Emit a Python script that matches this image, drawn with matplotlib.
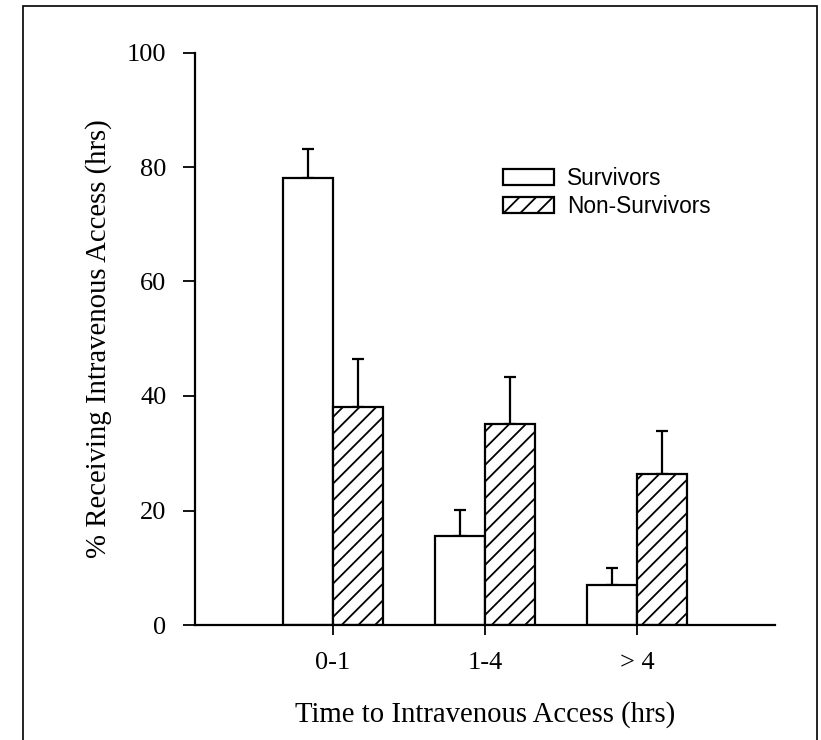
import numpy as np
from matplotlib import pyplot as plt
from matplotlib.patches import Rectangle

# data
groups = ["0-1", "1-4", "> 4"]
survivors = [78.0, 15.5, 6.9]
survivors_err = [5.2, 4.6, 3.0]
non_survivors = [38.1, 35.1, 26.4]
non_survivors_err = [8.3, 8.3, 7.5]

serif = "Liberation Serif"
sans = "Liberation Sans"
plt.rcParams["hatch.linewidth"] = 1.3

fig = plt.figure(figsize=(8.21, 7.4), dpi=100)
ax = fig.add_axes([195 / 821, 1 - 625 / 740, 580 / 821, 572.5 / 740])

x = np.arange(len(groups))
w = 0.329

ax.bar(x - w / 2, survivors, w, color="white", edgecolor="black",
       linewidth=1.6, label="Survivors", zorder=2)
ax.bar(x + w / 2, non_survivors, w, color="white", edgecolor="black",
       linewidth=1.6, hatch="//", label="Non-Survivors", zorder=2)

zeros = [0] * len(groups)
ax.errorbar(x - w / 2, survivors, yerr=[zeros, survivors_err], fmt="none",
            ecolor="black", elinewidth=1.6, capsize=4.5, capthick=1.6, zorder=1)
ax.errorbar(x + w / 2, non_survivors, yerr=[zeros, non_survivors_err], fmt="none",
            ecolor="black", elinewidth=1.6, capsize=4.5, capthick=1.6, zorder=1)

ax.set_xlim(-0.908, 2.908)
ax.set_ylim(0, 100)
ax.set_yticks([0, 20, 40, 60, 80, 100])
ax.set_xticks(x)
ax.set_xticklabels(groups, fontfamily=serif, fontsize=19)
for lab in ax.get_yticklabels():
    lab.set_fontfamily(serif)
    lab.set_fontsize(19)

ax.spines["top"].set_visible(False)
ax.spines["right"].set_visible(False)
ax.spines["left"].set_linewidth(1.6)
ax.spines["bottom"].set_linewidth(1.6)
ax.tick_params(axis="y", direction="out", length=8.6, width=1.3, pad=12)
ax.tick_params(axis="x", direction="out", length=7.2, width=1.3, pad=12.5)

ax.set_xlabel("Time to Intravenous Access (hrs)", fontfamily=serif,
              fontsize=20.7, labelpad=19)
ax.set_ylabel("% Receiving Intravenous Access (hrs)", fontfamily=serif,
              fontsize=20.7, labelpad=11)

ax.legend(loc="upper left", bbox_to_anchor=(503 / 821, 1 - 167 / 740),
          bbox_transform=fig.transFigure, frameon=False, borderpad=0,
          borderaxespad=0, handlelength=2.25, handleheight=0.68,
          handletextpad=0.58, labelspacing=0.22,
          prop={"family": sans, "size": 16.3})

# outer frame round the figure
fig.patches.append(Rectangle((23 / 821, -0.1), 794 / 821, 1.1 - 6 / 740,
                             transform=fig.transFigure, fill=False,
                             edgecolor="black", linewidth=1.2))

plt.savefig("out.png", dpi=100)
